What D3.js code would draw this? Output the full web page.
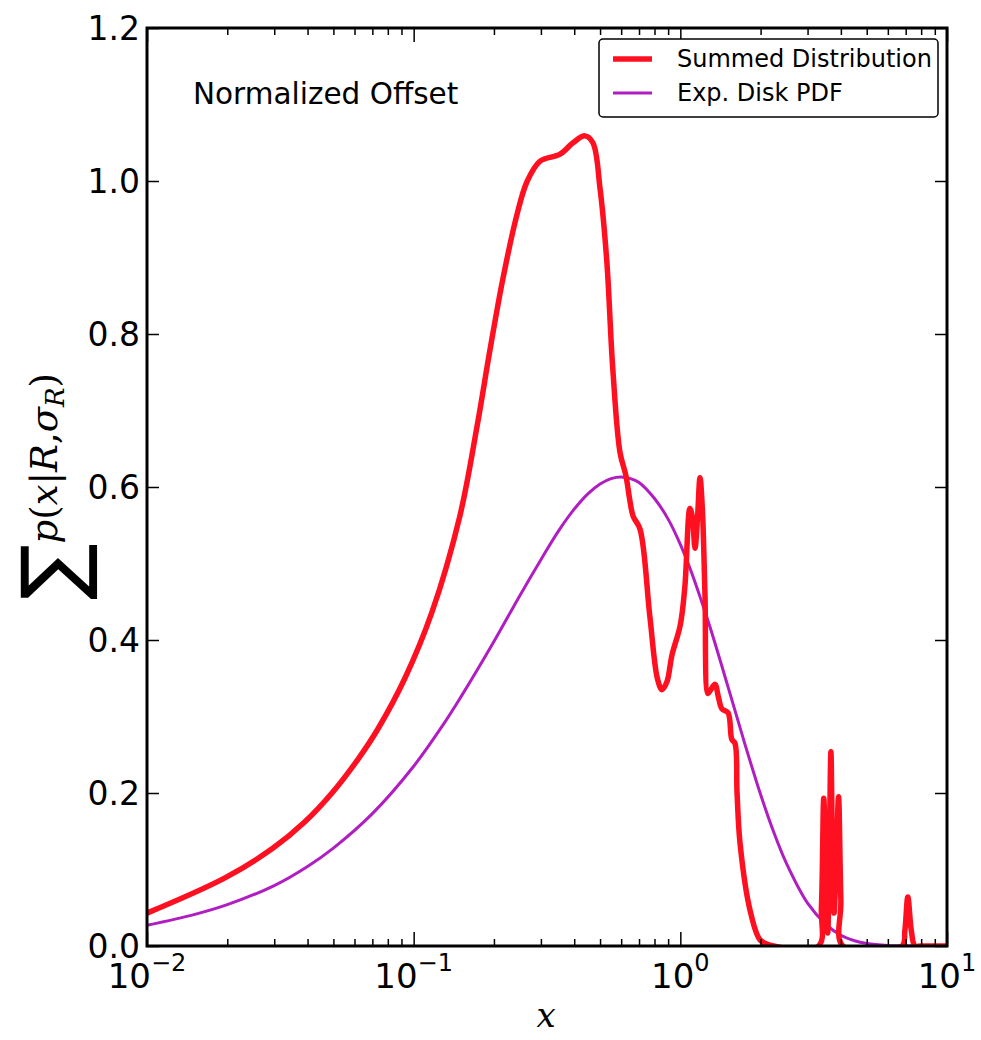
<!DOCTYPE html>
<html>
<head>
<meta charset="utf-8">
<script src="https://cdn.jsdelivr.net/npm/d3@7"></script>
<style>
  body { margin: 0; background: #fff; }
  svg { display: block; }
</style>
</head>
<body>
<div id="chart"></div>
<script>
// summed distribution (red)
const sumX = [0.01, 0.0196, 0.0297, 0.039, 0.0494, 0.0618, 0.0735, 0.0927, 0.117, 0.149, 0.173,
  0.193, 0.216, 0.244, 0.266, 0.298, 0.354, 0.396, 0.439, 0.47, 0.5, 0.53, 0.558, 0.594, 0.625, 0.645,
  0.665, 0.706, 0.769, 0.82, 0.853, 0.89, 0.93, 1.0, 1.04, 1.086, 1.11, 1.135, 1.16, 1.185, 1.21, 1.237,
  1.27, 1.3, 1.349, 1.39, 1.432, 1.51, 1.56, 1.603, 1.632, 1.675, 1.825, 1.99, 2.17, 3.3, 3.38, 3.45,
  3.52, 3.57, 3.62, 3.67, 3.72, 3.77, 3.85, 3.92, 4.0, 4.07, 6.78, 6.95, 7.13, 7.35, 7.58, 8.0, 10];
const sumY = [0.043, 0.089, 0.128, 0.162, 0.2, 0.244, 0.284, 0.35, 0.436, 0.562, 0.68,
  0.778, 0.872, 0.956, 0.999, 1.026, 1.035, 1.05, 1.059, 1.05, 0.99, 0.895, 0.755, 0.645, 0.615, 0.585,
  0.562, 0.545, 0.43, 0.35, 0.335, 0.345, 0.38, 0.42, 0.47, 0.572, 0.56, 0.52, 0.56, 0.612, 0.57, 0.46,
  0.33, 0.335, 0.342, 0.325, 0.31, 0.305, 0.27, 0.265, 0.2, 0.134, 0.047, 0.008, 0.001, 0, 0.05, 0.193,
  0.08, 0.017, 0.12, 0.254, 0.12, 0.043, 0.12, 0.195, 0.06, 0, 0, 0.02, 0.064, 0.02, 0, 0, 0];

// exponential disk pdf (purple)
const diskX = [0.01, 0.015, 0.02, 0.03, 0.04, 0.05, 0.07, 0.1, 0.13, 0.15, 0.2, 0.25, 0.3, 0.35, 0.4,
  0.45, 0.5, 0.55, 0.6, 0.65, 0.7, 0.8, 0.9, 1.0, 1.1, 1.2, 1.3, 1.5, 1.75, 2.0, 2.25, 2.5, 3.0, 3.5,
  4.0, 4.5, 5.0, 6.0, 7.0, 8.0, 10];
const diskY = [0.027, 0.041, 0.054, 0.079, 0.104, 0.128, 0.173, 0.235, 0.291, 0.325, 0.398, 0.458,
  0.505, 0.543, 0.571, 0.591, 0.604, 0.611, 0.613, 0.611, 0.606, 0.585, 0.558, 0.525, 0.489, 0.451,
  0.414, 0.342, 0.263, 0.198, 0.147, 0.108, 0.056, 0.029, 0.014, 0.0069, 0.0034, 0.0008, 0.0002,
  0.00005, 0];

const xMajor = [0.01, 0.1, 1, 10];
const xExp = ["\u22122", "\u22121", "0", "1"];
const yTicks = [0, 0.2, 0.4, 0.6, 0.8, 1.0, 1.2];
const legendNames = ["Summed Distribution", "Exp. Disk PDF"];

const width = 981, height = 1040;
const pL = 147, pR = 947, pT = 28, pB = 946;

const svg = d3.select("#chart").append("svg")
  .attr("width", width)
  .attr("height", height);

const x = d3.scaleLog().domain([0.01, 10]).range([pL, pR]);
const y = d3.scaleLinear().domain([0, 1.2]).range([pB, pT]);

const xMinor = [];
for (let d = 0.01; d < 10; d *= 10) {
  for (let k = 2; k <= 9; k++) xMinor.push(+(d * k).toPrecision(3));
}

svg.append("clipPath").attr("id", "plot")
  .append("rect")
  .attr("x", pL).attr("y", pT)
  .attr("width", pR - pL).attr("height", pB - pT);

const line = d3.line()
  .x(d => x(d[0]))
  .y(d => y(d[1]))
  .curve(d3.curveCatmullRom.alpha(0.5));

const plot = svg.append("g").attr("clip-path", "url(#plot)");

plot.append("path")
  .datum(diskX.map((v, i) => [v, diskY[i]]))
  .attr("d", line)
  .attr("fill", "none")
  .attr("stroke", "#b01ec2")
  .attr("stroke-width", 3);

plot.append("path")
  .datum(sumX.map((v, i) => [v, sumY[i]]))
  .attr("d", line)
  .attr("fill", "none")
  .attr("stroke", "#fe1020")
  .attr("stroke-width", 5.5)
  .attr("stroke-linejoin", "round");

// ticks, pointing inwards on all four sides
function styleAxis(g) {
  g.select(".domain").remove();
  g.selectAll(".tick line").attr("stroke", "#000").attr("stroke-width", 1.5);
  g.selectAll(".tick text").remove();
}
svg.append("g").attr("transform", `translate(0,${pB})`)
  .call(d3.axisBottom(x).tickValues(xMajor).tickSize(-14)).call(styleAxis);
svg.append("g").attr("transform", `translate(0,${pB})`)
  .call(d3.axisBottom(x).tickValues(xMinor).tickSize(-7)).call(styleAxis);
svg.append("g").attr("transform", `translate(0,${pT})`)
  .call(d3.axisTop(x).tickValues(xMajor).tickSize(-14)).call(styleAxis);
svg.append("g").attr("transform", `translate(0,${pT})`)
  .call(d3.axisTop(x).tickValues(xMinor).tickSize(-7)).call(styleAxis);
svg.append("g").attr("transform", `translate(${pL},0)`)
  .call(d3.axisLeft(y).tickValues(yTicks).tickSize(-12)).call(styleAxis);
svg.append("g").attr("transform", `translate(${pR},0)`)
  .call(d3.axisRight(y).tickValues(yTicks).tickSize(-12)).call(styleAxis);

svg.append("rect")
  .attr("x", pL).attr("y", pT)
  .attr("width", pR - pL).attr("height", pB - pT)
  .attr("fill", "none")
  .attr("stroke", "#000")
  .attr("stroke-width", 3);

// tick labels
svg.append("g").selectAll("text")
  .data(yTicks)
  .join("text")
  .attr("x", pL - 7)
  .attr("y", d => y(d))
  .attr("dy", "0.36em")
  .attr("text-anchor", "end")
  .attr("font-family", "DejaVu Sans")
  .attr("font-size", 33)
  .text(d => d.toFixed(1));

const xl = svg.append("g").selectAll("text")
  .data(xMajor)
  .join("text")
  .attr("x", d => x(d))
  .attr("y", 988)
  .attr("text-anchor", "middle")
  .attr("font-family", "DejaVu Sans")
  .attr("font-size", 34);
xl.append("tspan").text("10");
xl.append("tspan")
  .attr("dy", -17)
  .attr("font-size", 24)
  .text((d, i) => xExp[i]);

// axis labels
svg.append("text")
  .attr("x", 546).attr("y", 1027)
  .attr("text-anchor", "middle")
  .attr("font-family", "DejaVu Serif")
  .attr("font-style", "italic")
  .attr("font-size", 34)
  .text("x");

const yl = svg.append("text")
  .attr("transform", "translate(57,600) rotate(-90)")
  .attr("font-family", "DejaVu Serif")
  .attr("font-size", 37);
yl.append("tspan").attr("font-family", "DejaVu Sans").attr("font-size", 84).attr("dy", 24).text("\u2211");
yl.append("tspan").attr("dy", -24).attr("font-style", "italic").text("p");
yl.append("tspan").text("(");
yl.append("tspan").attr("font-style", "italic").text("x");
yl.append("tspan").text("|");
yl.append("tspan").attr("font-style", "italic").text("R");
yl.append("tspan").text(",");
yl.append("tspan").attr("font-style", "italic").text("\u03c3");
yl.append("tspan").attr("font-style", "italic").attr("font-size", 26).attr("dy", 7).text("R");
yl.append("tspan").attr("dy", -7).text(")");

svg.append("text")
  .attr("x", 193).attr("y", 104)
  .attr("font-family", "DejaVu Sans")
  .attr("font-size", 29.5)
  .text("Normalized Offset");

// legend
const legend = svg.append("g");
legend.append("rect")
  .attr("x", 599).attr("y", 39)
  .attr("width", 339).attr("height", 78)
  .attr("rx", 4)
  .attr("fill", "#fff")
  .attr("stroke", "#000")
  .attr("stroke-width", 1.5);
const legendColors = ["#fe1020", "#b01ec2"];
const legendWidths = [5.5, 3];
legendNames.forEach((name, i) => {
  const ly = 59 + i * 34;
  legend.append("line")
    .attr("x1", 613).attr("x2", 652)
    .attr("y1", ly).attr("y2", ly)
    .attr("stroke", legendColors[i])
    .attr("stroke-width", legendWidths[i]);
  legend.append("text")
    .attr("x", 677).attr("y", ly + 8)
    .attr("font-family", "DejaVu Sans")
    .attr("font-size", 24)
    .text(name);
});
</script>
</body>
</html>
